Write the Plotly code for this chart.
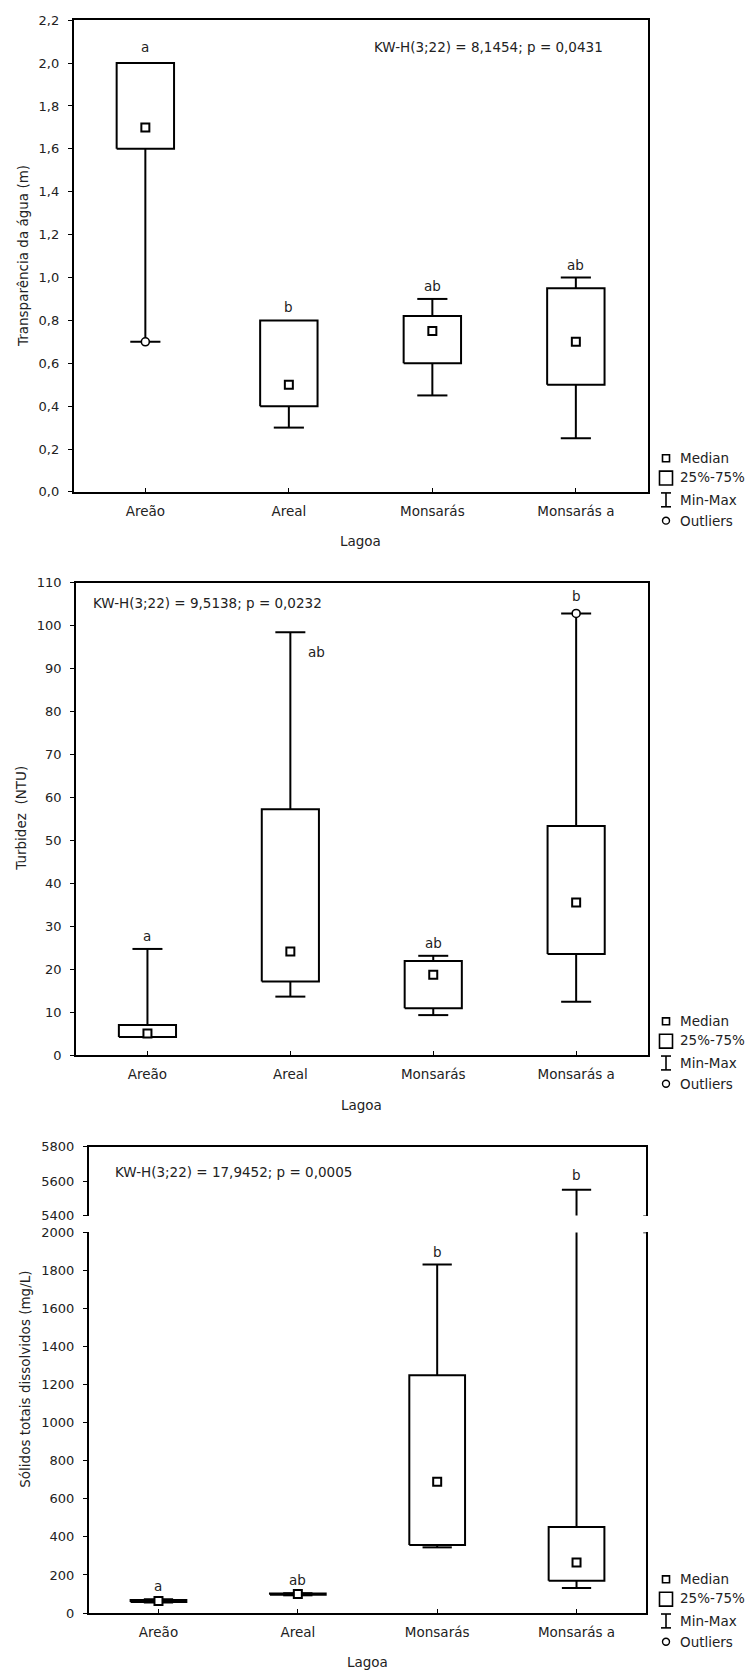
import plotly.graph_objects as go

W, H = 745, 1678

categories = ["Areão", "Areal", "Monsarás", "Monsarás a"]

# Chart 1 - Transparência da água (m)
transp_min = [0.70, 0.30, 0.45, 0.25]
transp_q1 = [1.60, 0.40, 0.60, 0.50]
transp_median = [1.70, 0.50, 0.75, 0.70]
transp_q3 = [2.00, 0.80, 0.82, 0.95]
transp_max = [2.00, 0.80, 0.90, 1.00]
transp_outliers = [0.70, None, None, None]
transp_letters = ["a", "b", "ab", "ab"]
transp_stat = "KW-H(3;22) = 8,1454; p = 0,0431"

# Chart 2 - Turbidez (NTU)
turb_min = [4.2, 13.6, 9.3, 12.4]
turb_q1 = [4.2, 17.1, 10.9, 23.5]
turb_median = [5.0, 24.1, 18.7, 35.5]
turb_q3 = [7.0, 57.2, 21.9, 53.3]
turb_max = [24.7, 98.4, 23.1, 102.8]
turb_outliers = [None, None, None, 102.8]
turb_letters = ["a", "ab", "ab", "b"]
turb_stat = "KW-H(3;22) = 9,5138; p = 0,0232"

# Chart 3 - Sólidos totais dissolvidos (mg/L)
sdt_min = [55, 93, 345, 131]
sdt_q1 = [58, 96, 357, 170]
sdt_median = [63, 100, 690, 265]
sdt_q3 = [68, 102, 1250, 452]
sdt_max = [72, 104, 1831, 5550]
sdt_outliers = [None, None, None, None]
sdt_letters = ["a", "ab", "b", "b"]
sdt_stat = "KW-H(3;22) = 17,9452; p = 0,0005"

legend_items = ["Median", "25%-75%", "Min-Max", "Outliers"]

FONT = "DejaVu Sans, Liberation Sans, Arial, sans-serif"
TXT = "#222222"
FS = 13.5
BW = 0.20   # half box width (category units)
CW = 0.105  # half cap width


def px(x):
    return x / W


def py(y):
    return 1 - y / H


fig = go.Figure()


def add_boxes(mins, q1s, meds, q3s, maxs, outs, xa, ya):
    xs, ys = [], []
    for i in range(len(categories)):
        xs += [i - BW, i + BW, i + BW, i - BW, i - BW, None]
        ys += [q1s[i], q1s[i], q3s[i], q3s[i], q1s[i], None]
        if maxs[i] > q3s[i]:
            xs += [i, i, None, i - CW, i + CW, None]
            ys += [q3s[i], maxs[i], None, maxs[i], maxs[i], None]
        if mins[i] < q1s[i]:
            xs += [i, i, None, i - CW, i + CW, None]
            ys += [q1s[i], mins[i], None, mins[i], mins[i], None]
    fig.add_trace(go.Scatter(x=xs, y=ys, mode="lines",
                             line=dict(color="black", width=2),
                             xaxis=xa, yaxis=ya, showlegend=False,
                             hoverinfo="skip"))
    fig.add_trace(go.Scatter(x=list(range(len(categories))), y=meds,
                             mode="markers",
                             marker=dict(symbol="square", size=8, color="white",
                                         line=dict(color="black", width=2)),
                             xaxis=xa, yaxis=ya, showlegend=False))
    ox = [i for i, v in enumerate(outs) if v is not None]
    oy = [v for v in outs if v is not None]
    if ox:
        fig.add_trace(go.Scatter(x=ox, y=oy, mode="markers",
                                 marker=dict(symbol="circle", size=8, color="white",
                                             line=dict(color="black", width=1.6)),
                                 xaxis=xa, yaxis=ya, showlegend=False))


def xaxis_cfg(x0, x1, anchor, mirror=True, labels=True):
    return dict(domain=[px(x0), px(x1)], range=[-0.5, len(categories) - 0.5],
                anchor=anchor, tickvals=list(range(len(categories))),
                ticktext=categories, ticks="inside" if labels else "",
                ticklen=4, tickcolor="black",
                showticklabels=labels, showline=True, linecolor="black",
                linewidth=1.6, mirror=mirror, showgrid=False, zeroline=False,
                tickfont=dict(size=FS, color=TXT, family=FONT),
                ticklabelstandoff=6, fixedrange=True)


def yaxis_cfg(y_top, y_bot, anchor, rng, dtick, fmt):
    return dict(domain=[py(y_bot), py(y_top)], range=rng, anchor=anchor,
                dtick=dtick, tick0=rng[0], tickformat=fmt, ticks="outside",
                ticklen=4, tickcolor="black", showline=True, linecolor="black",
                linewidth=1.6, mirror=True, showgrid=False, zeroline=False,
                tickfont=dict(size=FS - 0.5, color=TXT, family=FONT),
                ticklabelstandoff=6, fixedrange=True)


annotations = []
shapes = []


def ann(text, x, y, xanchor="center", yanchor="middle", angle=0, size=FS):
    annotations.append(dict(text=text, x=px(x), y=py(y), xref="paper",
                            yref="paper", xanchor=xanchor, yanchor=yanchor,
                            textangle=angle, showarrow=False,
                            font=dict(size=size, color=TXT, family=FONT)))


def letters(labels, tops, xr, yr, overrides=None):
    overrides = overrides or {}
    for i, lab in enumerate(labels):
        dx, dy = overrides.get(i, (0, 3))
        annotations.append(dict(text=lab, x=i, y=tops[i], xref=xr, yref=yr,
                                xanchor="center", yanchor="bottom",
                                xshift=dx, yshift=dy, showarrow=False,
                                font=dict(size=FS, color=TXT, family=FONT)))


def legend_block(yb):
    cx = 666
    shapes.append(dict(type="rect", xref="paper", yref="paper",
                       x0=px(cx - 3.5), x1=px(cx + 3.5), y0=py(yb - 30.5),
                       y1=py(yb - 37.5), line=dict(color="black", width=1.6)))
    shapes.append(dict(type="rect", xref="paper", yref="paper",
                       x0=px(cx - 6.5), x1=px(cx + 6.5), y0=py(yb - 7),
                       y1=py(yb - 21), line=dict(color="black", width=1.6)))
    for seg in [((cx, yb + 1), (cx, yb + 15)),
                ((cx - 5, yb + 1), (cx + 5, yb + 1)),
                ((cx - 5, yb + 15), (cx + 5, yb + 15))]:
        shapes.append(dict(type="line", xref="paper", yref="paper",
                           x0=px(seg[0][0]), y0=py(seg[0][1]),
                           x1=px(seg[1][0]), y1=py(seg[1][1]),
                           line=dict(color="black", width=1.6)))
    shapes.append(dict(type="circle", xref="paper", yref="paper",
                       x0=px(cx - 3.5), x1=px(cx + 3.5), y0=py(yb + 25.5),
                       y1=py(yb + 32.5), line=dict(color="black", width=1.4)))
    offs = [-34, -15, 8, 29]
    for lab, o in zip(legend_items, offs):
        ann(lab, 678, yb + o, xanchor="left", size=FS)


# ---------- Chart 1 ----------
c1x = (73.6, 647.6)
c1y = (13.3, 489.3)
add_boxes(transp_min, transp_q1, transp_median, transp_q3, transp_max,
          transp_outliers, "x", "y")
tops1 = [max(a, b) for a, b in zip(transp_q3, transp_max)]
letters(transp_letters, tops1, "x", "y", {0: (0, 6)})
ann(transp_stat, 488, 40)
ann("Transparência da água (m)", 23, (c1y[0] + c1y[1]) / 2, angle=-90)
ann("Lagoa", (c1x[0] + c1x[1]) / 2, 539)
legend_block(c1y[1])

# ---------- Chart 2 ----------
c2x = (76, 647.6)
c2y = (580.7, 1057.5)
add_boxes(turb_min, turb_q1, turb_median, turb_q3, turb_max,
          turb_outliers, "x2", "y2")
tops2 = [max(a, b) for a, b in zip(turb_q3, turb_max)]
letters(turb_letters, tops2, "x2", "y2", {1: (26, -30), 3: (0, 7)})
ann(turb_stat, 91, 601.4, xanchor="left")
ann("Turbidez\u00a0 (NTU)", 21, (c2y[0] + c2y[1]) / 2, angle=-90)
ann("Lagoa", (c2x[0] + c2x[1]) / 2, 1108)
legend_block(c2y[1])

# ---------- Chart 3 (broken axis) ----------
c3x = (88.8, 646.2)
c3_low = (1236.5, 1620.5)
c3_up = (1149.8, 1219.5)
add_boxes(sdt_min, sdt_q1, sdt_median, sdt_q3, sdt_max, sdt_outliers, "x3", "y3")
add_boxes(sdt_min, sdt_q1, sdt_median, sdt_q3, sdt_max, sdt_outliers, "x4", "y4")
tops3 = [max(a, b) for a, b in zip(sdt_q3, sdt_max)]
for i, lab in enumerate(sdt_letters):
    yr = "y4" if tops3[i] > 2000 else "y3"
    annotations.append(dict(text=lab, x=i, y=tops3[i], xref="x3" if yr == "y3" else "x4",
                            yref=yr, xanchor="center", yanchor="bottom",
                            yshift=5 if yr == "y4" else 3, showarrow=False,
                            font=dict(size=FS, color=TXT, family=FONT)))
ann(sdt_stat, 113, 1175.4, xanchor="left")
ann("Sólidos totais dissolvidos (mg/L)", 25, (c3_up[0] + c3_low[1]) / 2, angle=-90)
ann("Lagoa", (c3x[0] + c3x[1]) / 2, 1669.5)
legend_block(c3_low[1])

# small serifs on the right border at the axis break
for yref, yv in (("y3", 2000), ("y4", 5400)):
    shapes.append(dict(type="line", xref="paper", yref=yref,
                       x0=px(c3x[1] - 3), x1=px(c3x[1] + 1), y0=yv, y1=yv,
                       line=dict(color="black", width=1.4)))

x4 = xaxis_cfg(*c3x, anchor="y4", mirror=False, labels=False)
x4["side"] = "top"

fig.update_layout(
    width=W, height=H, margin=dict(l=0, r=0, t=0, b=0),
    paper_bgcolor="white", plot_bgcolor="white",
    separators=",.",
    font=dict(family=FONT, color=TXT, size=FS),
    showlegend=False,
    xaxis=xaxis_cfg(*c1x, anchor="y"),
    yaxis=yaxis_cfg(*c1y, anchor="x", rng=[0, 2.2], dtick=0.2, fmt=".1f"),
    xaxis2=xaxis_cfg(*c2x, anchor="y2"),
    yaxis2=yaxis_cfg(*c2y, anchor="x2", rng=[0, 110], dtick=10, fmt="d"),
    xaxis3=xaxis_cfg(*c3x, anchor="y3", mirror=False),
    yaxis3=yaxis_cfg(*c3_low, anchor="x3", rng=[0, 2000], dtick=200, fmt="d"),
    xaxis4=x4,
    yaxis4=yaxis_cfg(*c3_up, anchor="x4", rng=[5400, 5800], dtick=200, fmt="d"),
    annotations=annotations,
    shapes=shapes,
)

fig.write_html("out.html")
